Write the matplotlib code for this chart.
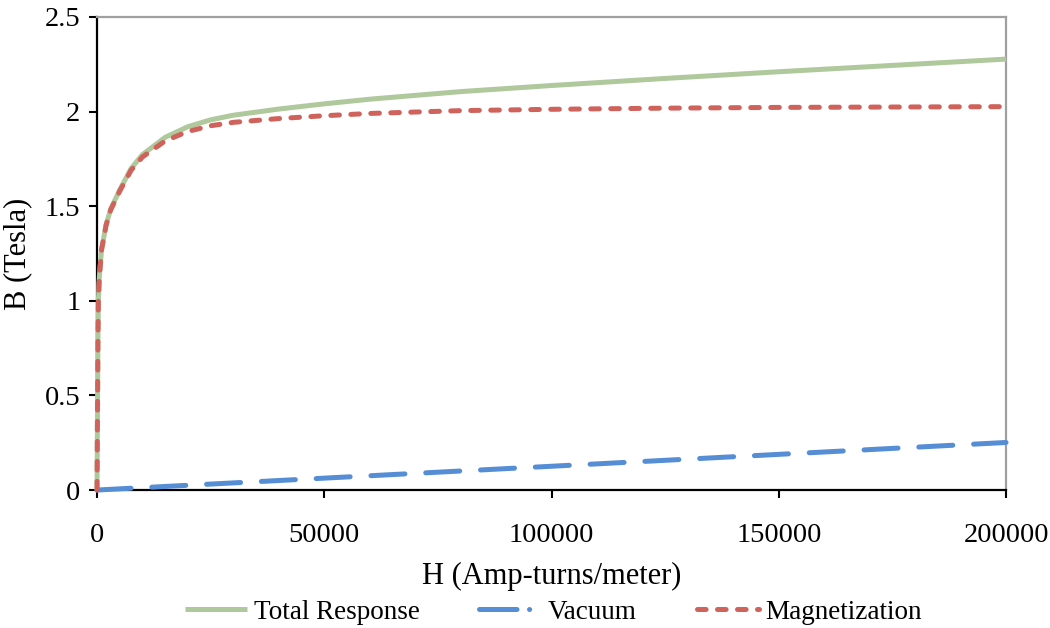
import matplotlib
matplotlib.use("Agg")
import matplotlib.pyplot as plt
from matplotlib.lines import Line2D

# field strength H (A-turns/m) and flux density contributions (T)
H = [0, 100, 200, 300, 500, 1000, 2000, 3000, 5000, 7500, 10000, 15000,
     20000, 25000, 30000, 40000, 50000, 60000, 80000, 100000, 125000,
     150000, 175000, 200000]
magnetization = [0, 0.400, 0.800, 1.000, 1.120, 1.270, 1.400, 1.480, 1.580,
                 1.690, 1.760, 1.845, 1.895, 1.925, 1.943, 1.963, 1.978,
                 1.990, 2.005, 2.012, 2.018, 2.022, 2.024, 2.026]
vacuum = [0, 0.00013, 0.00025, 0.00038, 0.00063, 0.00126, 0.00251, 0.00377,
          0.00628, 0.00942, 0.01257, 0.01885, 0.02513, 0.03142, 0.03770,
          0.05027, 0.06283, 0.07540, 0.10053, 0.12566, 0.15708, 0.18850,
          0.21991, 0.25133]
total = [0, 0.4001, 0.8003, 1.0004, 1.1206, 1.2713, 1.4025, 1.4838, 1.5863,
         1.6994, 1.7726, 1.8639, 1.9201, 1.9564, 1.9807, 2.0133, 2.0408,
         2.0654, 2.1055, 2.1377, 2.1751, 2.2105, 2.2439, 2.2773]

x_ticks = [0, 50000, 100000, 150000, 200000]
y_ticks = [0, 0.5, 1, 1.5, 2, 2.5]
y_tick_labels = ["0", "0.5", "1", "1.5", "2", "2.5"]

GREEN = "#AFC89C"
BLUE = "#558ED5"
RED = "#D0625C"

plt.rcParams["font.family"] = ["Liberation Serif", "DejaVu Serif"]
plt.rcParams["lines.scale_dashes"] = False

fig = plt.figure(figsize=(10.5, 6.28), dpi=100)
ax = fig.add_axes([0.0924, 0.2197, 0.8657, 0.7533])

lw = 3.6
ax.plot(H, total, color=GREEN, lw=lw, solid_capstyle="butt", solid_joinstyle="round",
        zorder=3, clip_on=False)
ax.plot(H, vacuum, color=BLUE, lw=lw, dashes=(24.5, 15), dash_capstyle="round",
        zorder=3, clip_on=False)
ax.plot(H, magnetization, color=RED, lw=lw, dashes=(6.2, 8.2), dash_capstyle="round",
        zorder=4, clip_on=False)

ax.set_xlim(0, 200000)
ax.set_ylim(0, 2.5)
ax.set_xticks(x_ticks)
ax.set_xticklabels([str(v) for v in x_ticks])
ax.set_yticks(y_ticks)
ax.set_yticklabels(y_tick_labels)
ax.tick_params(axis="both", labelsize=20.5, direction="out", length=6, width=1.5)
ax.tick_params(axis="x", pad=18)
ax.tick_params(axis="y", pad=6)

for side in ("left", "bottom"):
    ax.spines[side].set_color("black")
    ax.spines[side].set_linewidth(1.6)
for side in ("top", "right"):
    ax.spines[side].set_color("#A0A0A0")
    ax.spines[side].set_linewidth(1.6)

ax.set_xlabel("H (Amp-turns/meter)", fontsize=22, labelpad=10)
ax.set_ylabel("B (Tesla)", fontsize=22, labelpad=9)

handles = [
    Line2D([0], [0], color=GREEN, lw=lw, solid_capstyle="butt"),
    Line2D([0], [0], color=BLUE, lw=lw, dashes=(27, 9, 0.1, 20), dash_capstyle="round"),
    Line2D([0], [0], color=RED, lw=lw, dashes=(6.2, 8.2), dash_capstyle="round"),
]
fig.legend(handles, ["Total Response", "Vacuum", "Magnetization"],
           loc="center", bbox_to_anchor=(0.527, 0.025), ncol=3, frameon=False,
           fontsize=19.5, handlelength=2.3, handletextpad=0.25, columnspacing=2.2)

fig.savefig("out.png", dpi=100)
